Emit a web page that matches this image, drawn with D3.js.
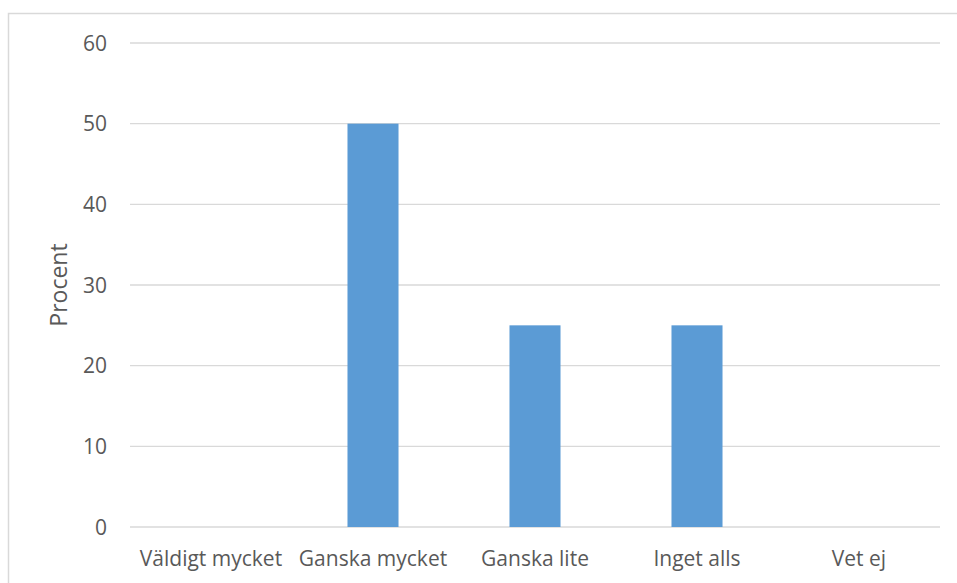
<!DOCTYPE html>
<html>
<head>
<meta charset="utf-8">
<script src="https://cdn.jsdelivr.net/npm/d3@7"></script>
<style>
  body { margin: 0; background: #fff; }
  text { font-family: "Open Sans", sans-serif; fill: #595959; }
</style>
</head>
<body>
<script>
// data
var categories = ["Väldigt mycket", "Ganska mycket", "Ganska lite", "Inget alls", "Vet ej"];
var values = [0, 50, 25, 25, 0];
var yTicks = [0, 10, 20, 30, 40, 50, 60];

window.onload = function(){
    var w = 957, h = 583;
    var svg = d3.select("body").append("svg")
        .attr("width", w)
        .attr("height", h);

    // chart border (runs off the right/bottom edge)
    svg.append("rect")
        .attr("x", 8.5).attr("y", 13.5)
        .attr("width", 960).attr("height", 600)
        .attr("fill", "none")
        .attr("stroke", "#d9d9d9")
        .attr("stroke-width", 1.5);

    var left = 130, right = 940, top = 43, bottom = 527;

    var x = d3.scaleBand()
        .domain(categories)
        .range([left, right])
        .paddingInner(0.685)
        .paddingOuter(0.3425);

    var y = d3.scaleLinear()
        .domain([0, 60])
        .range([bottom, top]);

    // gridlines
    svg.append("g")
        .selectAll("line")
        .data(yTicks)
        .enter().append("line")
        .attr("x1", left).attr("x2", right)
        .attr("y1", function(d){ return y(d); })
        .attr("y2", function(d){ return y(d); })
        .attr("stroke", "#d9d9d9")
        .attr("stroke-width", 1.3);

    // bars
    svg.append("g")
        .selectAll("rect")
        .data(values)
        .enter().append("rect")
        .attr("x", function(d, i){ return x(categories[i]); })
        .attr("width", x.bandwidth())
        .attr("y", function(d){ return y(d); })
        .attr("height", function(d){ return y(0) - y(d); })
        .attr("fill", "#5b9bd5");

    // y tick labels
    svg.append("g")
        .selectAll("text")
        .data(yTicks)
        .enter().append("text")
        .attr("x", 107)
        .attr("y", function(d){ return y(d); })
        .attr("dy", "0.36em")
        .attr("text-anchor", "end")
        .style("font-size", "21px")
        .text(function(d){ return d; });

    // x category labels
    svg.append("g")
        .selectAll("text")
        .data(categories)
        .enter().append("text")
        .attr("x", function(d){ return x(d) + x.bandwidth() / 2; })
        .attr("y", 566)
        .attr("text-anchor", "middle")
        .style("font-size", "21px")
        .text(function(d){ return d; });

    // y axis title
    svg.append("text")
        .attr("transform", "translate(67," + ((top + bottom) / 2) + ") rotate(-90)")
        .attr("text-anchor", "middle")
        .style("font-size", "23px")
        .text("Procent");
};
</script>
</body>
</html>
